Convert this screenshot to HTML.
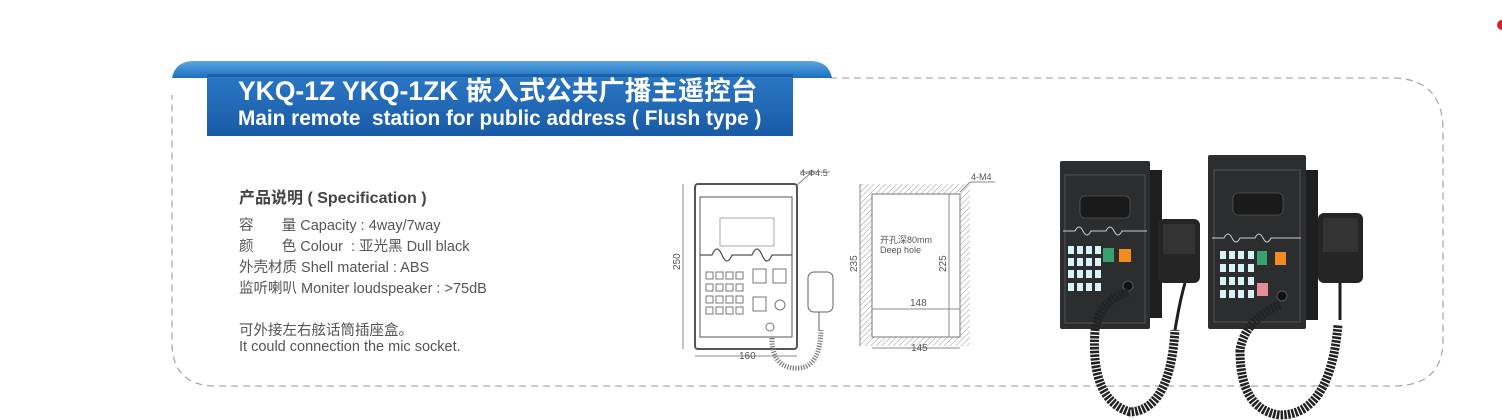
<!DOCTYPE html>
<html><head><meta charset="utf-8"><style>
html,body{margin:0;padding:0;background:#fff;}
body{width:1502px;height:420px;overflow:hidden;position:relative;font-family:"Liberation Sans","Noto Sans CJK SC",sans-serif;}
.t{position:absolute;white-space:nowrap;color:#555;}
</style></head><body>
<svg width="1502" height="420" style="position:absolute;left:0;top:0" xmlns="http://www.w3.org/2000/svg">
<defs>
<linearGradient id="rib" x1="0" y1="0" x2="0" y2="1"><stop offset="0" stop-color="#5aa6e0"/><stop offset="1" stop-color="#1c6fc0"/></linearGradient>
<linearGradient id="main" x1="0" y1="0" x2="0" y2="1"><stop offset="0" stop-color="#2a78c6"/><stop offset="1" stop-color="#1a5aa6"/></linearGradient>
<pattern id="hatch" width="4" height="4" patternUnits="userSpaceOnUse" patternTransform="rotate(45)"><line x1="0" y1="0" x2="0" y2="4" stroke="#999" stroke-width="1"/></pattern>
</defs>
<path d="M830,78 L1395,78 Q1443,80 1443,130 L1443,340 Q1443,385 1395,386 L216,386 Q172,386 172,342 L172,95" fill="none" stroke="#aaa" stroke-width="1.3" stroke-dasharray="7,5"/>
<path d="M172,78 Q175,62 192,61 L812,61 Q829,62 832,78 Z" fill="url(#rib)"/>
<rect x="207" y="74" width="586" height="62" fill="url(#main)"/>
<rect x="207" y="74" width="586" height="3" fill="#0e4a8a" opacity="0.5"/>
<circle cx="1502" cy="25" r="5" fill="#e02020"/>

<g stroke="#555" fill="none" stroke-width="1">
<rect x="695" y="184" width="102" height="165" rx="3" stroke-width="2"/>
<rect x="700" y="197" width="92" height="140"/>
<rect x="720" y="218" width="54" height="28" stroke="#aaa"/>
<path d="M700,255 L712,255 q5,-12 10,0 q5,12 10,0 L752,255 q5,-12 10,0 q5,12 10,0 L792,255" stroke-width="1.3"/>
<g stroke="#777">
<rect x="706" y="272" width="7" height="7"/><rect x="716" y="272" width="7" height="7"/><rect x="726" y="272" width="7" height="7"/><rect x="736" y="272" width="7" height="7"/>
<rect x="706" y="284" width="7" height="7"/><rect x="716" y="284" width="7" height="7"/><rect x="726" y="284" width="7" height="7"/><rect x="736" y="284" width="7" height="7"/>
<rect x="706" y="296" width="7" height="7"/><rect x="716" y="296" width="7" height="7"/><rect x="726" y="296" width="7" height="7"/><rect x="736" y="296" width="7" height="7"/>
<rect x="706" y="307" width="7" height="7"/><rect x="716" y="307" width="7" height="7"/><rect x="726" y="307" width="7" height="7"/><rect x="736" y="307" width="7" height="7"/>
<rect x="753" y="269" width="13" height="14"/><rect x="773" y="269" width="13" height="14"/><rect x="753" y="297" width="13" height="14"/>
<circle cx="780" cy="305" r="5"/><circle cx="770" cy="327" r="4"/>
</g>
<line x1="683" y1="184" x2="683" y2="349" stroke="#888"/>
<line x1="695" y1="356" x2="797" y2="356" stroke="#888"/>
<line x1="797" y1="185" x2="812" y2="172" stroke="#888"/><line x1="800" y1="172" x2="830" y2="172" stroke="#888"/>
<rect x="808" y="272" width="25" height="40" rx="6" stroke="#666"/>
<path d="M819,312 L819,330" stroke="#666"/>
<path d="M772,338 Q772,370 800,368 Q820,366 821,330" stroke="#777" stroke-width="5" stroke-dasharray="1.2,1.5"/>
</g>
<text x="800" y="176" font-size="9" fill="#555" font-family="Liberation Sans">4-Φ4.5</text>
<text x="680" y="270" font-size="10" fill="#555" font-family="Liberation Sans" transform="rotate(-90 680 270)">250</text>
<text x="739" y="359" font-size="10" fill="#555" font-family="Liberation Sans">160</text>

<rect x="860" y="184" width="110" height="162" fill="url(#hatch)"/>
<rect x="872" y="194" width="88" height="143" fill="#fff" stroke="#777"/>
<g stroke="#888" fill="none">
<line x1="860" y1="184" x2="860" y2="346"/><line x1="949" y1="194" x2="949" y2="337"/>
<line x1="872" y1="309" x2="960" y2="309"/><line x1="872" y1="348" x2="960" y2="348"/>
<line x1="960" y1="192" x2="970" y2="182"/><line x1="970" y1="182" x2="995" y2="182"/>
</g>
<text x="971" y="180" font-size="9" fill="#555" font-family="Liberation Sans">4-M4</text>
<text x="880" y="243" font-size="9" fill="#555" font-family="Liberation Sans,Noto Sans CJK SC,sans-serif">开孔深80mm</text>
<text x="880" y="253" font-size="9" fill="#555" font-family="Liberation Sans">Deep hole</text>
<text x="857" y="272" font-size="10" fill="#555" font-family="Liberation Sans" transform="rotate(-90 857 272)">235</text>
<text x="946" y="272" font-size="10" fill="#555" font-family="Liberation Sans" transform="rotate(-90 946 272)">225</text>
<text x="910" y="306" font-size="10" fill="#555" font-family="Liberation Sans">148</text>
<text x="911" y="351" font-size="10" fill="#555" font-family="Liberation Sans">145</text>

<rect x="1148" y="170" width="14" height="148" fill="#1e1e1e"/>
<rect x="1060" y="161" width="90" height="168" rx="2" fill="#2b2d2f"/>
<rect x="1065" y="175" width="80" height="148" fill="none" stroke="#666" stroke-width="0.7"/>
<rect x="1080" y="196" width="50" height="22" rx="5" fill="#1a1a1a" stroke="#666" stroke-width="0.6"/>
<path d="M1063,231 l12,0 q4,-8 8,0 q4,8 8,0 l15,0 q4,-8 8,0 q4,8 8,0 l25,0" stroke="#ccc" fill="none" stroke-width="1"/>
<g fill="#d8f2f8">
<rect x="1068" y="246" width="6" height="8"/><rect x="1077" y="246" width="6" height="8"/><rect x="1086" y="246" width="6" height="8"/><rect x="1095" y="246" width="6" height="8"/>
<rect x="1068" y="258" width="6" height="8"/><rect x="1077" y="258" width="6" height="8"/><rect x="1086" y="258" width="6" height="8"/><rect x="1095" y="258" width="6" height="8"/>
<rect x="1068" y="270" width="6" height="8"/><rect x="1077" y="270" width="6" height="8"/><rect x="1086" y="270" width="6" height="8"/><rect x="1095" y="270" width="6" height="8"/>
<rect x="1068" y="283" width="6" height="8"/><rect x="1077" y="283" width="6" height="8"/><rect x="1086" y="283" width="6" height="8"/><rect x="1095" y="283" width="6" height="8"/>
</g>
<rect x="1103" y="248" width="11" height="14" fill="#3aa070"/>
<rect x="1119" y="249" width="12" height="13" fill="#f08c20"/>
<circle cx="1128" cy="286" r="5" fill="#111" stroke="#555"/>
<rect x="1158" y="219" width="42" height="64" rx="6" fill="#252525"/>
<rect x="1163" y="224" width="32" height="30" fill="#333"/>
<path d="M1185,283 Q1180,300 1175,330" stroke="#1d1d1d" stroke-width="3" fill="none"/>
<path d="M1128,292 Q1100,300 1095,330 Q1090,400 1130,412 Q1170,410 1175,330" stroke="#222" stroke-width="9" fill="none" stroke-dasharray="2.5,1.2"/>

<rect x="1304" y="170" width="14" height="150" fill="#1e1e1e"/>
<rect x="1208" y="155" width="98" height="174" rx="2" fill="#2b2d2f"/>
<rect x="1214" y="170" width="86" height="152" fill="none" stroke="#666" stroke-width="0.7"/>
<rect x="1233" y="193" width="50" height="22" rx="5" fill="#1a1a1a" stroke="#666" stroke-width="0.6"/>
<path d="M1212,238 l12,0 q4,-8 8,0 q4,8 8,0 l15,0 q4,-8 8,0 q4,8 8,0 l30,0" stroke="#ccc" fill="none" stroke-width="1"/>
<g fill="#d8f2f8">
<rect x="1220" y="251" width="6" height="8"/><rect x="1229" y="251" width="6" height="8"/><rect x="1238" y="251" width="6" height="8"/><rect x="1248" y="251" width="6" height="8"/>
<rect x="1220" y="264" width="6" height="8"/><rect x="1229" y="264" width="6" height="8"/><rect x="1238" y="264" width="6" height="8"/><rect x="1248" y="264" width="6" height="8"/>
<rect x="1220" y="277" width="6" height="8"/><rect x="1229" y="277" width="6" height="8"/><rect x="1238" y="277" width="6" height="8"/><rect x="1248" y="277" width="6" height="8"/>
<rect x="1220" y="290" width="6" height="8"/><rect x="1229" y="290" width="6" height="8"/><rect x="1238" y="290" width="6" height="8"/><rect x="1248" y="290" width="6" height="8"/>
</g>
<rect x="1257" y="251" width="10" height="14" fill="#3aa070"/>
<rect x="1275" y="252" width="11" height="13" fill="#f08c20"/>
<rect x="1257" y="283" width="11" height="13" fill="#e88a98"/>
<circle cx="1282" cy="296" r="5" fill="#111" stroke="#555"/>
<rect x="1318" y="213" width="45" height="70" rx="6" fill="#252525"/>
<rect x="1323" y="218" width="35" height="34" fill="#333"/>
<path d="M1340,283 L1340,320" stroke="#1d1d1d" stroke-width="3" fill="none"/>
<path d="M1280,305 Q1245,320 1240,350 Q1240,410 1280,415 Q1330,415 1338,325" stroke="#222" stroke-width="9" fill="none" stroke-dasharray="2.5,1.2"/>
</svg>

<div class="t" style="left:238px;top:75px;font-size:26.5px;line-height:32px;font-weight:bold;color:#fff;">YKQ-1Z YKQ-1ZK 嵌入式公共广播主遥控台</div>
<div class="t" style="left:238px;top:107px;font-size:20.8px;line-height:24px;font-weight:bold;color:#fff;">Main remote&nbsp; station for public address ( Flush type )</div>

<div class="t" style="left:239px;top:184px;font-size:16px;font-weight:bold;color:#444;">产品说明 ( Specification )</div>
<div class="t" style="left:239px;top:216px;font-size:14.5px;line-height:21px;">容&nbsp;&nbsp;&nbsp;&nbsp;&nbsp;&nbsp;&nbsp;量 Capacity : 4way/7way<br>颜&nbsp;&nbsp;&nbsp;&nbsp;&nbsp;&nbsp;&nbsp;色 Colour&nbsp; : 亚光黑 Dull black<br>外壳材质 Shell material : ABS<br>监听喇叭 Moniter loudspeaker : &gt;75dB</div>
<div class="t" style="left:239px;top:319px;font-size:14.5px;">可外接左右舷话筒插座盒。</div>
<div class="t" style="left:239px;top:339px;font-size:14.5px;">It could connection the mic socket.</div>
</body></html>
